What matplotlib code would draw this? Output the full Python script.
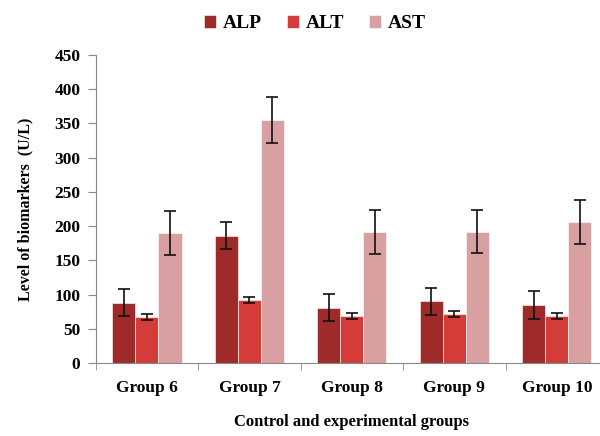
import numpy as np
import matplotlib
matplotlib.use("Agg")
import matplotlib.pyplot as plt

groups = ["Group 6", "Group 7", "Group 8", "Group 9", "Group 10"]
alp = [88, 186, 81, 90, 85]
alp_err = [20, 20, 20, 20, 20]
alt = [67, 92, 69, 72, 69]
alt_err = [4.5, 5, 4.5, 4.5, 4.5]
ast = [190, 355, 191, 192, 206]
ast_err = [32, 33, 32, 32, 32]

plt.rcParams["font.family"] = ["Liberation Serif", "DejaVu Serif"]
plt.rcParams["font.weight"] = "bold"

fig = plt.figure(figsize=(6, 4.36), dpi=100)
ax = fig.add_axes([0.1595, 0.1674, 0.854, 0.7065])

x = np.arange(len(groups))
w = 0.225
series = [("ALP", alp, alp_err, "#9f2a2a"),
          ("ALT", alt, alt_err, "#d43c3a"),
          ("AST", ast, ast_err, "#d9a0a1")]
for i, (name, vals, errs, col) in enumerate(series):
    ax.bar(x + (i - 1) * w, vals, w, color=col, edgecolor="#ffffff", linewidth=0.4,
           yerr=errs, capsize=4, error_kw=dict(ecolor="#111111", elinewidth=1.2, capthick=1.2),
           label=name)

ax.set_xlim(-0.5, len(groups) - 0.5)
ax.set_ylim(0, 450)
ax.set_yticks(np.arange(0, 451, 50))
ax.set_xticks(x)
ax.set_xticklabels(groups, fontsize=12.5, fontweight="bold")
ax.set_xticks(np.arange(-0.5, len(groups), 1), minor=True)
ax.tick_params(axis="x", which="major", length=0, pad=12)
ax.tick_params(axis="x", which="minor", length=5, color="#888888", direction="out")
ax.tick_params(axis="y", length=6, color="#888888", labelsize=12.5, direction="out", pad=5)
for lab in ax.get_yticklabels():
    lab.set_fontweight("bold")

for s in ["top", "right"]:
    ax.spines[s].set_visible(False)
for s in ["left", "bottom"]:
    ax.spines[s].set_color("#888888")

ax.set_ylabel("Level of biomarkers  (U/L)", fontsize=11.5, fontweight="bold", labelpad=15)
ax.set_xlabel("Control and experimental groups", fontsize=12, fontweight="bold", labelpad=13)

leg = fig.legend(loc="upper center", bbox_to_anchor=(0.525, 1.005), ncol=3, frameon=False,
                 handlelength=0.6, handleheight=0.6, handletextpad=0.35, columnspacing=1.3,
                 prop=dict(family="Liberation Serif", weight="bold", size=14))

fig.savefig("out.png", dpi=100)
